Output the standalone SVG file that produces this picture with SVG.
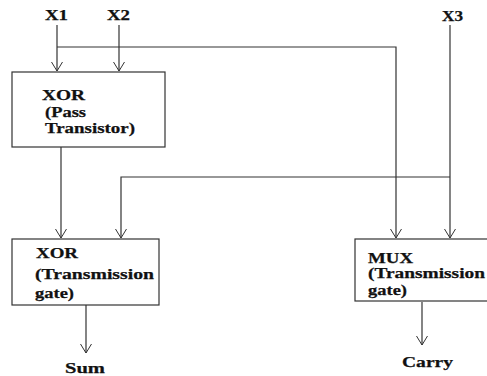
<svg xmlns="http://www.w3.org/2000/svg" width="487" height="376" viewBox="0 0 487 376">
<defs>
<marker id="arr" markerWidth="12" markerHeight="14" refX="10" refY="7" orient="auto" markerUnits="userSpaceOnUse">
<path d="M1,1.5 L10,7 L1,12.5" fill="none" stroke="#333" stroke-width="1"/>
</marker>
<style>
.w{fill:none;stroke:#333;stroke-width:1.2}
.box{fill:#fff;stroke:#333;stroke-width:1.2}
.t{font-family:"Liberation Serif","Times New Roman",serif;font-weight:bold;font-size:15px;fill:#111;stroke:#111;stroke-width:0.25}
</style>
</defs>
<rect width="487" height="376" fill="#fff"/>
<g id="connectors">
<path class="w" d="M57,25 V71" marker-end="url(#arr)"/>
<path class="w" d="M119,25 V71" marker-end="url(#arr)"/>
<path class="w" d="M57,47 H396 V238" marker-end="url(#arr)"/>
<path class="w" d="M450,25 V238" marker-end="url(#arr)"/>
<path class="w" d="M61,147 V238" marker-end="url(#arr)"/>
<path class="w" d="M450,177 H121 V238" marker-end="url(#arr)"/>
<path class="w" d="M86,305 V353" marker-end="url(#arr)"/>
<path class="w" d="M422,302 V345" marker-end="url(#arr)"/>
</g>
<g id="in-x1"><text class="t" x="45" y="20" textLength="23" lengthAdjust="spacingAndGlyphs">X1</text></g>
<g id="in-x2"><text class="t" x="107" y="20" textLength="23" lengthAdjust="spacingAndGlyphs">X2</text></g>
<g id="in-x3"><text class="t" x="442" y="21" textLength="21" lengthAdjust="spacingAndGlyphs">X3</text></g>
<g id="xor-pass">
<rect class="box" x="12" y="72" width="153" height="75"/>
<text class="t" x="42" y="100" textLength="43" lengthAdjust="spacingAndGlyphs">XOR</text>
<text class="t" x="45" y="117" textLength="41" lengthAdjust="spacingAndGlyphs">(Pass</text>
<text class="t" x="45" y="133" textLength="90" lengthAdjust="spacingAndGlyphs">Transistor)</text>
</g>
<g id="xor-tg">
<rect class="box" x="12" y="239" width="147" height="66"/>
<text class="t" x="36" y="258" textLength="42" lengthAdjust="spacingAndGlyphs">XOR</text>
<text class="t" x="35" y="279" textLength="119" lengthAdjust="spacingAndGlyphs">(Transmission</text>
<text class="t" x="35" y="298" textLength="39" lengthAdjust="spacingAndGlyphs">gate)</text>
</g>
<g id="mux-tg">
<rect class="box" x="355" y="239" width="140" height="62"/>
<text class="t" x="368" y="263" textLength="45" lengthAdjust="spacingAndGlyphs">MUX</text>
<text class="t" x="368" y="278" textLength="117" lengthAdjust="spacingAndGlyphs">(Transmission</text>
<text class="t" x="368" y="295" textLength="39" lengthAdjust="spacingAndGlyphs">gate)</text>
</g>
<g id="out-sum"><text class="t" x="65" y="373" textLength="40" lengthAdjust="spacingAndGlyphs">Sum</text></g>
<g id="out-carry"><text class="t" x="402" y="367" textLength="51" lengthAdjust="spacingAndGlyphs">Carry</text></g>
</svg>
